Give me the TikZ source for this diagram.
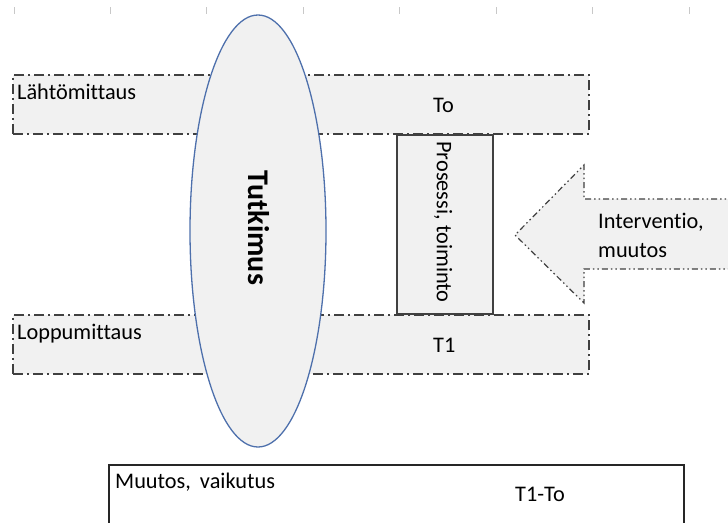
\documentclass[tikz,border=0pt]{standalone}
\usepackage{fontspec}
\setmainfont{Carlito}[RawFeature={-liga;-clig;-dlig;-calt}]
\usetikzlibrary{shapes.geometric}
\definecolor{lightfill}{HTML}{F1F1F1}
\definecolor{boxgray}{HTML}{404040}
\definecolor{ellblue}{HTML}{4E70AC}
\definecolor{tickgray}{HTML}{C8C8C8}
\begin{document}
\begin{tikzpicture}[x=1pt,y=-1pt,
  lbl/.style={font=\fontsize{22.3}{29}\selectfont, inner sep=0pt, text=black},
  measbox/.style={rectangle, draw=boxgray, line width=1.4pt,
    dash pattern=on 10pt off 4pt on 2pt off 4pt, fill=lightfill,
    minimum width=576pt, minimum height=59pt, inner sep=0pt},
  procbox/.style={rectangle, draw=boxgray, line width=1.4pt, fill=lightfill,
    minimum width=96pt, minimum height=179pt, inner sep=0pt},
  studyell/.style={ellipse, draw=ellblue, line width=1.3pt, fill=lightfill,
    minimum width=136pt, minimum height=432pt, inner sep=0pt},
  resbox/.style={rectangle, draw=black!85, line width=1.3pt, fill=white,
    minimum width=575pt, minimum height=90pt, inner sep=0pt},
  arrowline/.style={draw=boxgray, line width=1.2pt,
    dash pattern=on 6pt off 3pt on 1.5pt off 3pt on 1.5pt off 3pt},
  tick/.style={draw=tickgray, line width=0.8pt}
]
\useasboundingbox (0,0) rectangle (728,522);
\clip (0,0) rectangle (728,522);

% ruler ticks
\foreach \tx in {14,110,206,303,399,496,592,689}
  \draw[tick] (\tx,7) -- (\tx,14);

% measurement bands
\node[measbox] (base) at (301,104.5) {};
\node[measbox] (final) at (301,344.5) {};

% process box
\node[procbox] (proc) at (445,224.5) {};

% intervention arrow (open at right edge)
\fill[lightfill] (735,199) -- (584,199) -- (584,165) -- (515,235) -- (584,303) -- (584,269) -- (735,269) -- cycle;
\draw[arrowline] (735,199) -- (584,199) -- (584,165) -- (515,235) -- (584,303) -- (584,269) -- (735,269);

% study ellipse
\node[studyell] (study) at (258,231) {};
\node[lbl, rotate=-90, font=\fontsize{30}{36}\selectfont\bfseries] (studytxt) at (259,228) {Tutkimus};

% result box
\node[resbox] (result) at (396.5,510) {};

% texts
\node[lbl, anchor=base west] (basetxt) at (17,99) {Lähtömittaus};
\node[lbl, anchor=base west] (to) at (433,112) {To};
\node[lbl, anchor=base west] (finaltxt) at (17,339) {Loppumittaus};
\node[lbl, anchor=base west] (t1) at (433,352) {T1};
\node[lbl, rotate=-90] (proctxt) at (443,222) {Prosessi, toiminto};
\node[lbl, anchor=base west] (interv1) at (598,228) {Interventio,};
\node[lbl, anchor=base west] (interv2) at (598,257) {muutos};
\node[lbl, anchor=base west] (restxt) at (115,488) {Muutos,\hspace{9pt}vaikutus};
\node[lbl, anchor=base west] (diff) at (515,501) {T1-To};
\end{tikzpicture}
\end{document}
